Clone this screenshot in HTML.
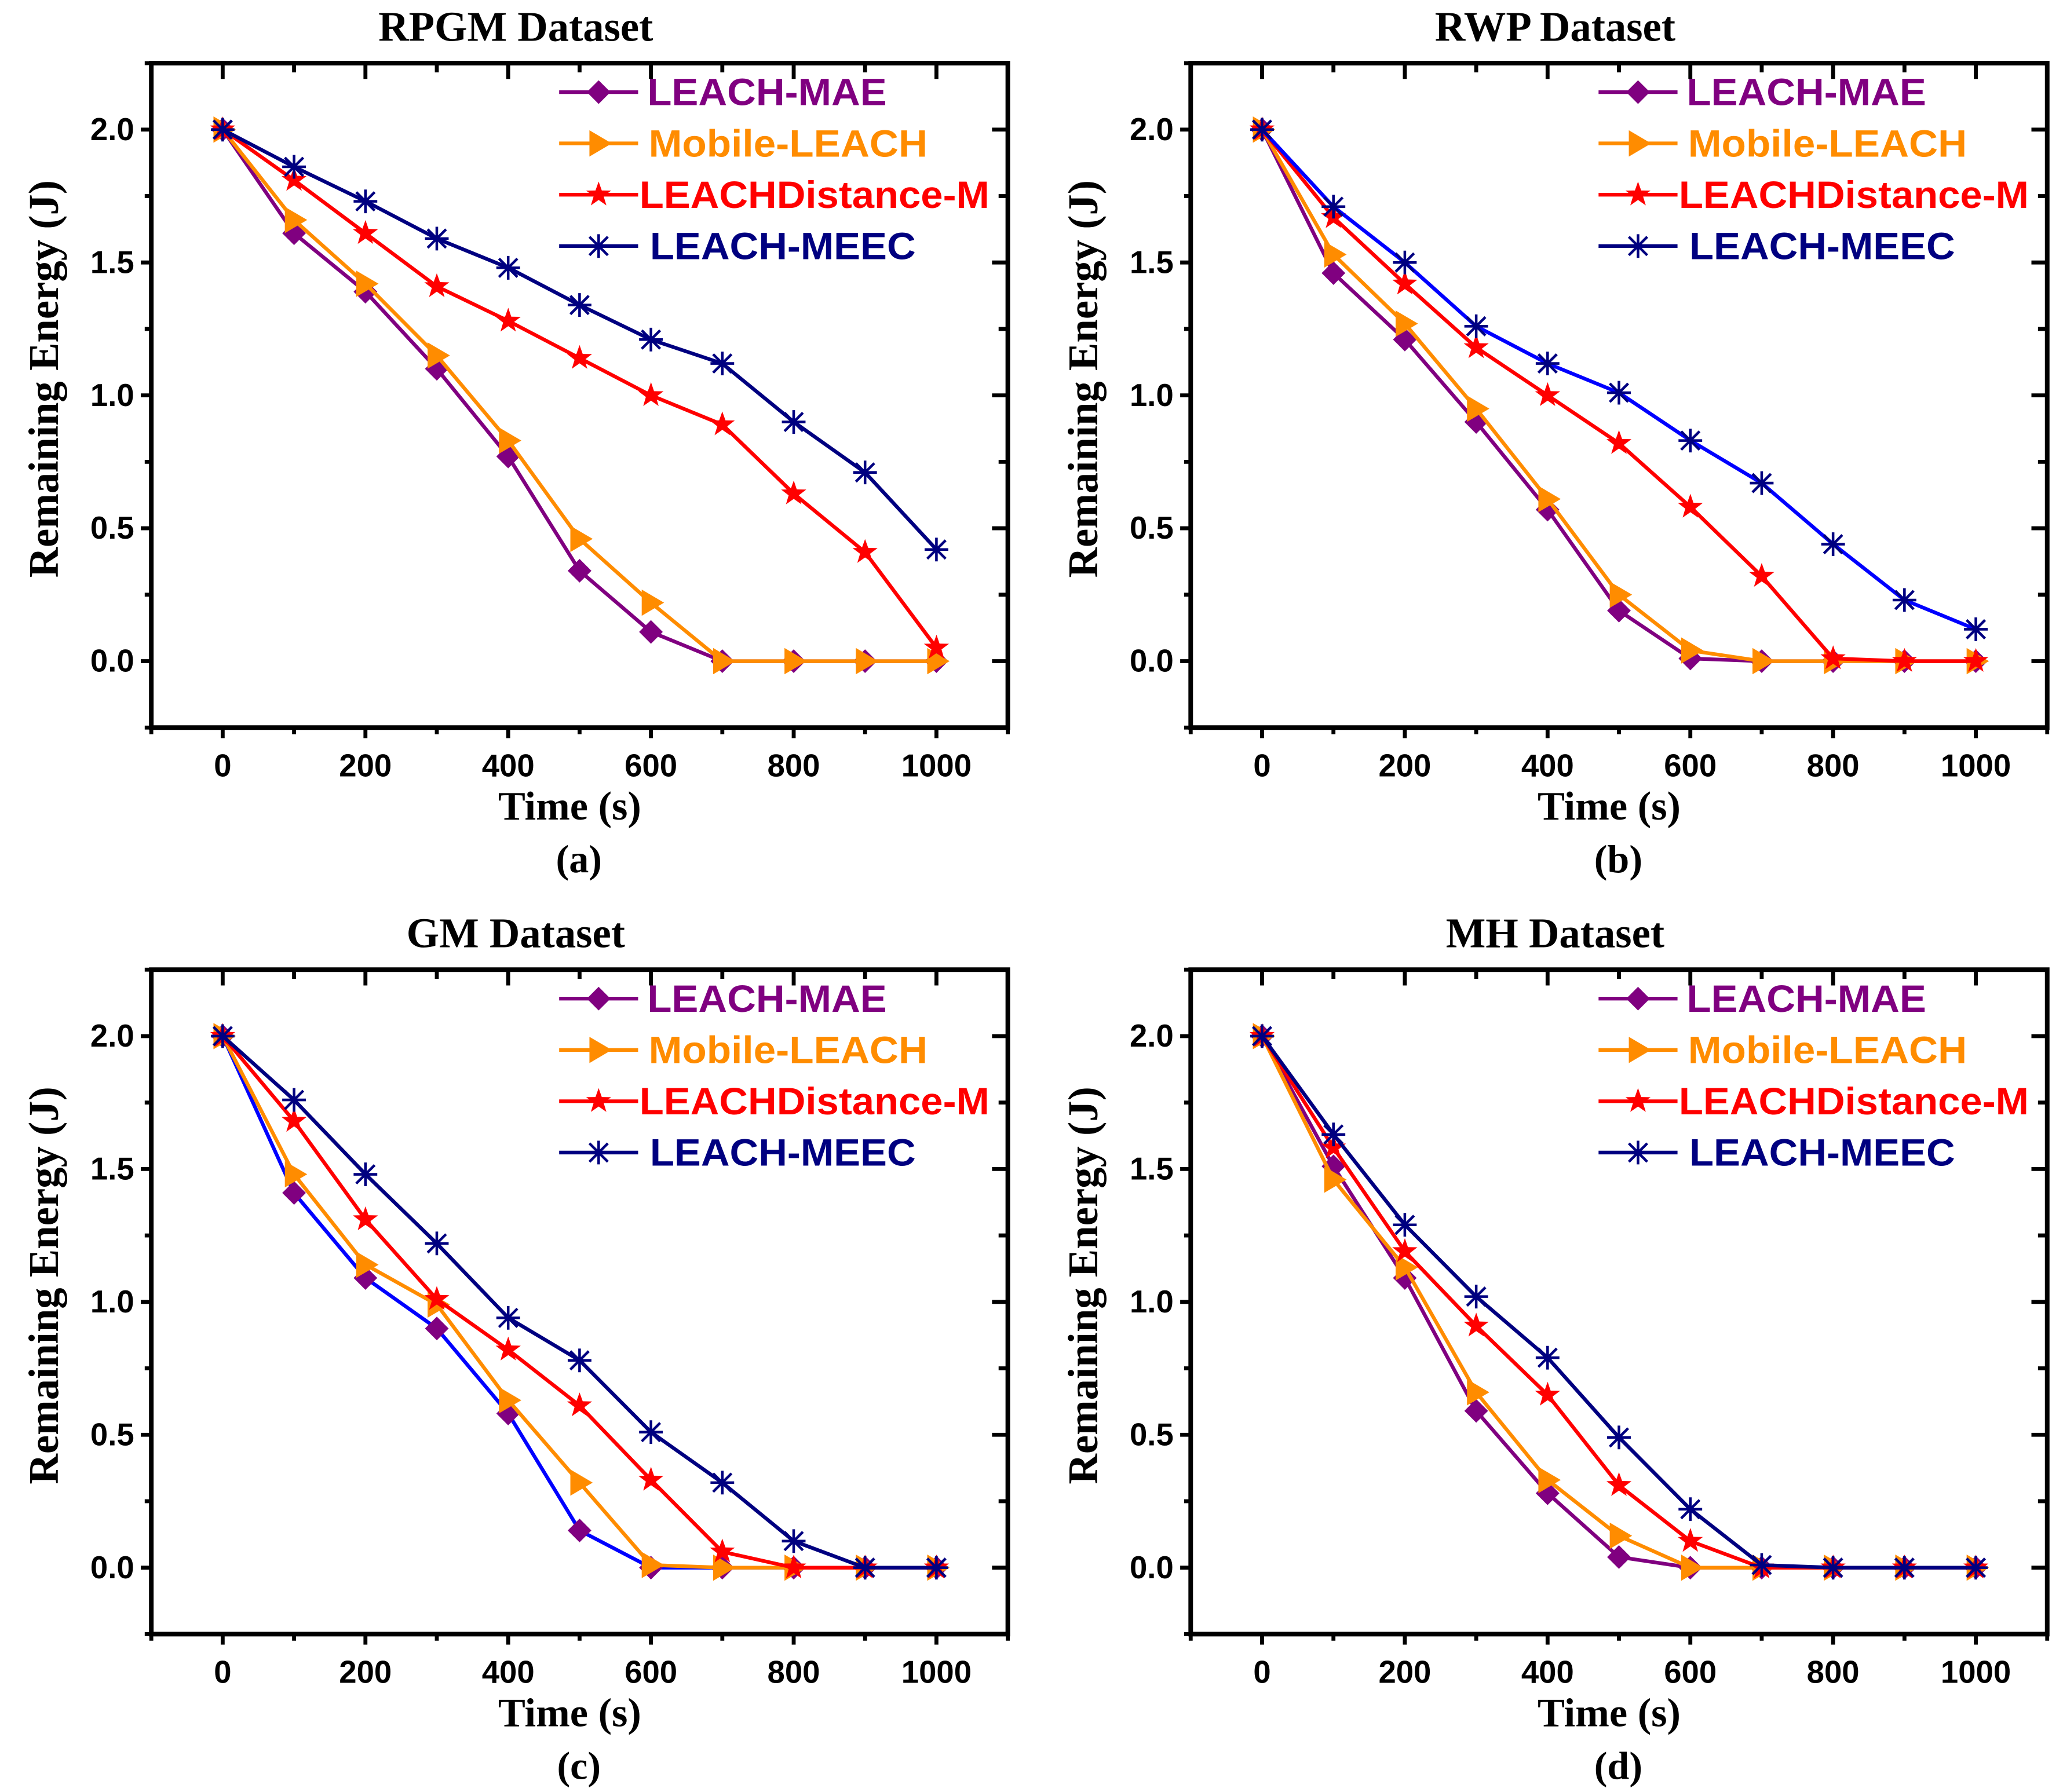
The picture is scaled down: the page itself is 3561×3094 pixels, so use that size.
<!DOCTYPE html>
<html><head><meta charset="utf-8"><style>
html,body{margin:0;padding:0;background:#fff}
svg{display:block}
text{font-family:"Liberation Sans",sans-serif;font-weight:bold}
.serif{font-family:"Liberation Serif",serif}
</style></head><body>
<svg id="chart" xmlns="http://www.w3.org/2000/svg" width="3561" height="3094" viewBox="0 0 1568 1362" preserveAspectRatio="none"></svg>
<script>
const times = [0,100,200,300,400,500,600,700,800,900,1000];
const seriesNames = ["LEACH-MAE","Mobile-LEACH","LEACHDistance-M","LEACH-MEEC"];
const xTicks = [0,200,400,600,800,1000];
const yTicks = [0.0,0.5,1.0,1.5,2.0];
const yTickLabels = ["0.0","0.5","1.0","1.5","2.0"];
const panelTitles = ["RPGM Dataset","RWP Dataset","GM Dataset","MH Dataset"];
const panelLetters = ["(a)","(b)","(c)","(d)"];
const aMAE = [2,1.61,1.39,1.10,0.77,0.34,0.11,0,0,0,0];
const aMob = [2,1.66,1.42,1.15,0.83,0.46,0.22,0,0,0,0];
const aDist = [2,1.81,1.61,1.41,1.28,1.14,1.0,0.89,0.63,0.41,0.05];
const aMEEC = [2,1.86,1.73,1.59,1.48,1.34,1.21,1.12,0.90,0.71,0.42];
const bMAE = [2,1.46,1.21,0.90,0.57,0.19,0.01,0,0,0,0];
const bMob = [2,1.53,1.27,0.95,0.61,0.25,0.04,0,0,0,0];
const bDist = [2,1.67,1.42,1.18,1.0,0.82,0.58,0.32,0.01,0,0];
const bMEEC = [2,1.71,1.50,1.26,1.12,1.01,0.83,0.67,0.44,0.23,0.12];
const cMAE = [2,1.41,1.09,0.90,0.58,0.14,0,0,0,0,0];
const cMob = [2,1.48,1.14,0.99,0.63,0.32,0.01,0,0,0,0];
const cDist = [2,1.68,1.31,1.01,0.82,0.61,0.33,0.06,0,0,0];
const cMEEC = [2,1.76,1.48,1.22,0.94,0.78,0.51,0.32,0.10,0,0];
const dMAE = [2,1.51,1.09,0.59,0.28,0.04,0,0,0,0,0];
const dMob = [2,1.46,1.13,0.66,0.33,0.12,0,0,0,0,0];
const dDist = [2,1.58,1.19,0.91,0.65,0.31,0.10,0,0,0,0];
const dMEEC = [2,1.63,1.29,1.02,0.79,0.49,0.22,0.01,0,0,0];
const panelData = [[aMAE,aMob,aDist,aMEEC],[bMAE,bMob,bDist,bMEEC],[cMAE,cMob,cDist,cMEEC],[dMAE,dMob,dDist,dMEEC]];

const colors = ["#800080","#ff8c00","#ff0000","#000080"];
const lineColors = [["#800080","#ff8c00","#ff0000","#000080"],["#800080","#ff8c00","#ff0000","#0000ff"],["#0000ff","#ff8c00","#ff0000","#000080"],["#800080","#ff8c00","#ff0000","#000080"]];
const legendWidths = [182,212,266,202];
const legendOffsets = [377,378,371,379];
const NS = "http://www.w3.org/2000/svg";
const svg = document.getElementById('chart');
function mk(tag, attrs, parent){const e=document.createElementNS(NS,tag);for(const k in attrs)e.setAttribute(k,attrs[k]);(parent||svg).appendChild(e);return e;}

const layouts = [{L:115,T:48},{L:905,T:48},{L:115,T:737},{L:905,T:737}];
const W=651,H=505;
const xMin=-100,xMax=1100,yMin=-0.25,yMax=2.25;

function marker(g,kind,x,y,c){
  let m;
  if(kind===0) m=mk('polygon',{points:`${x},${y-9} ${x+9},${y} ${x},${y+9} ${x-9},${y}`,fill:c},g);
  else if(kind===1) m=mk('polygon',{points:`${x-7},${y-10} ${x+10},${y} ${x-7},${y+10}`,fill:c},g);
  else if(kind===2){let p=[];for(let i=0;i<10;i++){const r=i%2?4:10;const a=-Math.PI/2+i*Math.PI/5;p.push((x+r*Math.cos(a)).toFixed(1)+','+(y+r*Math.sin(a)).toFixed(1));}m=mk('polygon',{points:p.join(' '),fill:c},g);}
  else {m=mk('path',{d:`M${x-9},${y}H${x+9}M${x},${y-9}V${y+9}M${x-7},${y-7}L${x+7},${y+7}M${x-7},${y+7}L${x+7},${y-7}`,stroke:c,'stroke-width':2,fill:'none'},g);}
  return m;
}

layouts.forEach((lay,pi)=>{
  const g=mk('g',{});
  
  
  const sx=v=>lay.L+(v-xMin)/(xMax-xMin)*W;
  const sy=v=>lay.T+H-(v-yMin)/(yMax-yMin)*H;
  const box=mk('rect',{x:lay.L,y:lay.T,width:W,height:H,fill:'none',stroke:'#000','stroke-width':3.5},g);
  
  for(let v=-100;v<=1100;v+=100){
    const major=v%200===0&&v>=0&&v<=1000;
    const len=major?12:7;
    mk('line',{x1:sx(v),x2:sx(v),y1:lay.T+H,y2:lay.T+H+(major?8:5),stroke:'#000','stroke-width':3},g);
    mk('line',{x1:sx(v),x2:sx(v),y1:lay.T,y2:lay.T+len,stroke:'#000','stroke-width':3},g);
  }
  for(let k=-1;k<=9;k++){const v=k*0.25;const major=k%2===0&&k>=0;
    mk('line',{x1:lay.L,x2:lay.L-(major?8:5),y1:sy(v),y2:sy(v),stroke:'#000','stroke-width':3},g);
    mk('line',{x1:lay.L+W,x2:lay.L+W-(major?12:7),y1:sy(v),y2:sy(v),stroke:'#000','stroke-width':3},g);
  }
  xTicks.forEach(v=>{const t=mk('text',{x:sx(v),y:lay.T+H+37,'text-anchor':'middle','font-size':24},g);t.textContent=v;
    });
  yTicks.forEach((v,i)=>{const t=mk('text',{x:lay.L-13,y:sy(v)+8,'text-anchor':'end','font-size':24},g);t.textContent=yTickLabels[i];
    });
  const title=mk('text',{x:lay.L+277,y:lay.T-17,'text-anchor':'middle','font-size':32,class:'serif'},g);title.textContent=panelTitles[pi];
  
  const xl=mk('text',{x:lay.L+318,y:lay.T+H+70,'text-anchor':'middle','font-size':31,class:'serif'},g);xl.textContent='Time (s)';
  
  const yx=lay.L-71,yy=lay.T+240;
  const yl=mk('text',{x:yx,y:yy,'text-anchor':'middle','font-size':32,class:'serif',transform:`rotate(-90 ${yx} ${yy})`},g);yl.textContent='Remaining Energy (J)';
  
  const lt=mk('text',{x:lay.L+325,y:lay.T+H+110,'text-anchor':'middle','font-size':30,class:'serif'},g);lt.textContent=panelLetters[pi];
  
  panelData[pi].forEach((vals,si)=>{
    const sg=mk('g',{},g);
    
    
    const pts=vals.map((v,i)=>sx(times[i]).toFixed(1)+','+sy(v).toFixed(1)).join(' ');
    mk('polyline',{points:pts,fill:'none',stroke:lineColors[pi][si],'stroke-width':2.8},sg);
    vals.forEach((v,i)=>{const m=marker(sg,si,sx(times[i]),sy(v),colors[si]);
      });
  });
  const lg=mk('g',{},g);
  
  seriesNames.forEach((n,si)=>{
    const y=lay.T+22+si*39;
    const x1=lay.L+310,x2=lay.L+370;
    mk('line',{x1:x1,x2:x2,y1:y,y2:y,stroke:colors[si],'stroke-width':2.8},lg);
    marker(lg,si,(x1+x2)/2,y,colors[si]);
    const t=mk('text',{x:lay.L+legendOffsets[si],y:y+10,'font-size':29,fill:colors[si],textLength:legendWidths[si],lengthAdjust:'spacingAndGlyphs'},lg);t.textContent=n;
    
  });
});
</script>
</body></html>
